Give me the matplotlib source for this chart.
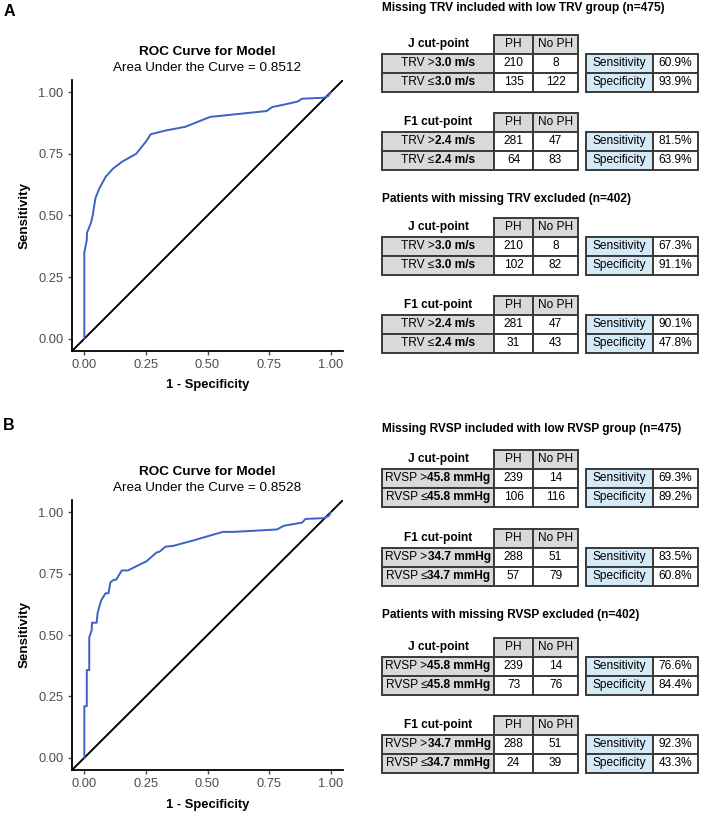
import matplotlib
matplotlib.use("Agg")
import matplotlib.pyplot as plt
from matplotlib.patches import Rectangle

plt.rcParams['font.family'] = ['Liberation Sans', 'DejaVu Sans']

# ---------------- data ----------------
roc_a_fpr = [0.0, 0.0, 0.010, 0.011, 0.027, 0.034, 0.045, 0.061, 0.086, 0.116, 0.156, 0.21, 0.25, 0.27,
             0.33, 0.41, 0.51, 0.605, 0.74, 0.762, 0.81, 0.864, 0.884, 0.973, 0.99, 1.0]
roc_a_tpr = [0.0, 0.35, 0.40, 0.43, 0.47, 0.50, 0.57, 0.61, 0.656, 0.69, 0.72, 0.75, 0.80, 0.83,
             0.845, 0.86, 0.90, 0.91, 0.924, 0.94, 0.95, 0.962, 0.974, 0.978, 0.985, 1.0]
roc_b_fpr = [0.0, 0.0, 0.01, 0.01, 0.02, 0.02, 0.03, 0.031, 0.05, 0.054, 0.068, 0.086, 0.098, 0.106,
             0.12, 0.129, 0.152, 0.177, 0.231, 0.252, 0.293, 0.306, 0.33, 0.36, 0.442, 0.486, 0.562,
             0.605, 0.782, 0.81, 0.884, 0.898, 0.973, 0.993, 1.0]
roc_b_tpr = [0.0, 0.21, 0.21, 0.357, 0.357, 0.49, 0.52, 0.55, 0.55, 0.59, 0.64, 0.67, 0.67, 0.715,
             0.725, 0.725, 0.763, 0.763, 0.79, 0.80, 0.836, 0.84, 0.86, 0.863, 0.885, 0.898, 0.92,
             0.92, 0.93, 0.945, 0.958, 0.973, 0.976, 0.986, 1.0]
auc_values = ["0.8512", "0.8528"]
panel_letters = ["A", "B"]

section_titles = [
    "Missing TRV included with low TRV group (n=475)",
    "Patients with missing TRV excluded (n=402)",
    "Missing RVSP included with low RVSP group (n=475)",
    "Patients with missing RVSP excluded (n=402)",
]
cut_names = ["J cut-point", "F1 cut-point"]
col_headers = ["PH", "No PH"]
measure_prefix = ["TRV", "TRV", "RVSP", "RVSP"]
thresholds = [["3.0 m/s", "2.4 m/s"], ["3.0 m/s", "2.4 m/s"],
              ["45.8 mmHg", "34.7 mmHg"], ["45.8 mmHg", "34.7 mmHg"]]
counts = [
    [[[210, 8], [135, 122]], [[281, 47], [64, 83]]],
    [[[210, 8], [102, 82]], [[281, 47], [31, 43]]],
    [[[239, 14], [106, 116]], [[288, 51], [57, 79]]],
    [[[239, 14], [73, 76]], [[288, 51], [24, 39]]],
]
sens_spec = [
    [["60.9%", "93.9%"], ["81.5%", "63.9%"]],
    [["67.3%", "91.1%"], ["90.1%", "47.8%"]],
    [["69.3%", "89.2%"], ["83.5%", "60.8%"]],
    [["76.6%", "84.4%"], ["92.3%", "43.3%"]],
]
metric_names = ["Sensitivity", "Specificity"]

# ---------------- layout ----------------
W, H = 702, 815
fig = plt.figure(figsize=(W / 100, H / 100), dpi=100)

BLUE = '#3B62C4'
TICK_GREY = '#4D4D4D'
GREY_FILL = '#D9D9D9'
BLUE_FILL = '#D5EAF7'
EDGE = '#3A3A3A'

roc_boxes = [(72, 80, 343, 351), (72, 500, 343, 770)]  # left, top, right, bottom in px
title_y = [(52, 68), (472, 488)]
letter_y = [11, 425]
xlabel_y = [385, 805]

for i in range(2):
    l, t, r, b = roc_boxes[i]
    ax = fig.add_axes([l / W, 1 - b / H, (r - l) / W, (b - t) / H])
    fpr = roc_a_fpr if i == 0 else roc_b_fpr
    tpr = roc_a_tpr if i == 0 else roc_b_tpr
    ax.plot([-0.05, 1.05], [-0.05, 1.05], color='black', lw=1.4, zorder=2)
    ax.plot(fpr, tpr, color=BLUE, lw=1.4, zorder=3)
    ax.set_xlim(-0.05, 1.05)
    ax.set_ylim(-0.05, 1.05)
    ticks = [0, 0.25, 0.5, 0.75, 1.0]
    ax.set_xticks(ticks)
    ax.set_yticks(ticks)
    ax.set_xticklabels(["0.00", "0.25", "0.50", "0.75", "1.00"])
    ax.set_yticklabels(["0.00", "0.25", "0.50", "0.75", "1.00"])
    for s in ['top', 'right']:
        ax.spines[s].set_visible(False)
    for s in ['left', 'bottom']:
        ax.spines[s].set_linewidth(1.3)
        ax.spines[s].set_color('black')
    ax.tick_params(axis='both', length=3.2, width=1.0, color=TICK_GREY,
                   labelcolor=TICK_GREY, labelsize=9.3, pad=2.8)
    cx = (l + r) / 2
    fig.text(cx / W, 1 - title_y[i][0] / H, "ROC Curve for Model", ha='center', va='center',
             fontsize=9.7, fontweight='bold')
    fig.text(cx / W, 1 - title_y[i][1] / H, "Area Under the Curve = " + auc_values[i],
             ha='center', va='center', fontsize=9.7)
    fig.text(cx / W, 1 - xlabel_y[i] / H, "1 - Specificity", ha='center', va='center',
             fontsize=9.4, fontweight='bold')
    fig.text(25 / W, 1 - ((t + b) / 2) / H, "Sensitivity", ha='center', va='center',
             fontsize=9.6, fontweight='bold', rotation=90)
    fig.text(9 / W, 1 - letter_y[i] / H, panel_letters[i], ha='center', va='center',
             fontsize=11.5, fontweight='bold')

# overlay axes in pixel coordinates for the tables
tax = fig.add_axes([0, 0, 1, 1])
tax.set_xlim(0, W)
tax.set_ylim(H, 0)
tax.axis('off')

FS = 8.6
sec_title_y = [8, 199, 429, 615]
table_tops = [[35, 113], [218, 296], [450, 529], [638, 716]]
HDR_H = 18.5
ROW_H = 19
X_LAB0, X_LAB1 = 382, 494
X_PH1, X_NOPH1 = 533, 578
X_S0, X_S1, X_S2 = 586, 653, 698

renderer = fig.canvas.get_renderer()


def cell(x0, y0, x1, y1, fc):
    tax.add_patch(Rectangle((x0, y0), x1 - x0, y1 - y0, facecolor=fc, edgecolor=EDGE,
                            linewidth=1.4, zorder=2))


def mixed_text(cx, cy, normal, bold):
    t1 = tax.text(0, cy, normal, ha='left', va='center', fontsize=FS, zorder=4)
    t2 = tax.text(0, cy, bold, ha='left', va='center', fontsize=FS, fontweight='bold', zorder=4)
    inv = tax.transData.inverted()
    w1 = t1.get_window_extent(renderer)
    w2 = t2.get_window_extent(renderer)
    w1d = inv.transform((w1.x1, 0))[0] - inv.transform((w1.x0, 0))[0]
    w2d = inv.transform((w2.x1, 0))[0] - inv.transform((w2.x0, 0))[0]
    x0 = cx - (w1d + w2d) / 2
    t1.set_x(x0)
    t2.set_x(x0 + w1d)


for s in range(4):
    tax.text(X_LAB0, sec_title_y[s], section_titles[s], ha='left', va='center',
             fontsize=FS, fontweight='bold')
    for k in range(2):
        top = table_tops[s][k]
        r0 = top + HDR_H
        # cut-point label
        tax.text((X_LAB0 + X_LAB1) / 2, top + HDR_H / 2, cut_names[k], ha='center', va='center',
                 fontsize=FS, fontweight='bold')
        # headers
        cell(X_LAB1, top, X_PH1, r0, GREY_FILL)
        cell(X_PH1, top, X_NOPH1, r0, GREY_FILL)
        tax.text((X_LAB1 + X_PH1) / 2, top + HDR_H / 2, col_headers[0], ha='center',
                 va='center', fontsize=FS, zorder=4)
        tax.text((X_PH1 + X_NOPH1) / 2, top + HDR_H / 2, col_headers[1], ha='center',
                 va='center', fontsize=FS, zorder=4)
        for j in range(2):
            y0 = r0 + j * ROW_H
            y1 = y0 + ROW_H
            cy = (y0 + y1) / 2
            cell(X_LAB0, y0, X_LAB1, y1, GREY_FILL)
            cell(X_LAB1, y0, X_PH1, y1, 'white')
            cell(X_PH1, y0, X_NOPH1, y1, 'white')
            sym = ">" if j == 0 else "\u2264"
            mixed_text((X_LAB0 + X_LAB1) / 2, cy, measure_prefix[s] + " " + sym, thresholds[s][k])
            tax.text((X_LAB1 + X_PH1) / 2, cy, str(counts[s][k][j][0]), ha='center',
                     va='center', fontsize=FS, zorder=4)
            tax.text((X_PH1 + X_NOPH1) / 2, cy, str(counts[s][k][j][1]), ha='center',
                     va='center', fontsize=FS, zorder=4)
            cell(X_S0, y0, X_S1, y1, BLUE_FILL)
            cell(X_S1, y0, X_S2, y1, 'white')
            tax.text((X_S0 + X_S1) / 2, cy, metric_names[j], ha='center', va='center',
                     fontsize=FS, zorder=4)
            tax.text((X_S1 + X_S2) / 2, cy, sens_spec[s][k][j], ha='center', va='center',
                     fontsize=FS, zorder=4)

fig.savefig("out.png", dpi=100)
